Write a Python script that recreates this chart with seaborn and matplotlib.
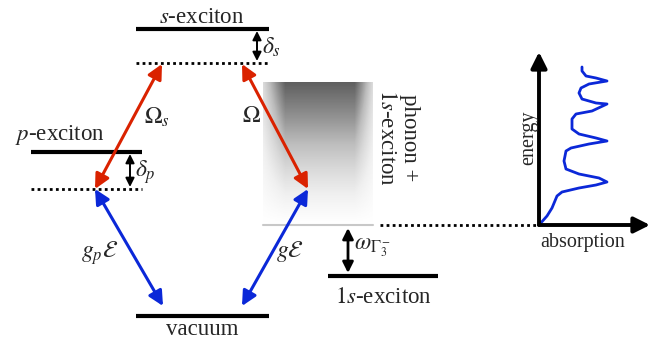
"""Level scheme for p/s excitons with a phonon band, plus the resulting absorption sketch."""

import matplotlib
matplotlib.use("Agg")

import matplotlib.pyplot as plt
import numpy as np
import seaborn as sns

# level scheme (pixel frame of the picture, y grows downwards)
level_names = ["$s$-exciton", "$p$-exciton", "vacuum", "$1s$-exciton"]
level_x0 = [136, 31, 136, 328]
level_x1 = [269, 142, 269, 438]
level_y = [29, 152, 316, 276]

# detuned (dotted) levels
dotted_x0 = [136, 31, 380]
dotted_x1 = [269, 142, 539]
dotted_y = [63, 189, 225]

# couplings: (start x, start y, end x, end y, label)
coupling_labels = [r"$\Omega_s$", r"$\Omega$", r"$g_p\mathcal{E}$", r"$g\mathcal{E}$"]
coupling_from = [(95, 189), (242, 64), (95, 189), (308, 189)]
coupling_to = [(162, 64), (308, 189), (163, 306), (242, 306)]
coupling_color = ["red", "red", "blue", "blue"]

# absorption spectrum (px from the axis origin)
absorption = [0, 8, 13, 18, 23, 40, 57, 68, 60, 40, 27, 25, 27, 32, 50, 68, 57, 40,
              33, 33, 37, 53, 68, 57, 43, 40, 42, 50, 68, 57, 47, 43, 43]
energy = [0, 9, 17, 29, 33, 37, 40, 43, 47, 51, 56, 64, 74, 77, 81, 84, 87, 91,
          96, 106, 111, 114, 121, 122, 126, 132, 137, 141, 144, 147, 149, 154, 158]

RED = "#da2200"
BLUE = "#0b28d8"
COLORS = {"red": RED, "blue": BLUE}

sns.set_style("white")
plt.rcParams["font.family"] = ["Liberation Serif", "DejaVu Serif"]
plt.rcParams["mathtext.fontset"] = "stix"

fig = plt.figure(figsize=(6.59, 3.41), dpi=100)
ax = fig.add_axes([0, 0, 1, 1])
ax.set_xlim(0, 659)
ax.set_ylim(341, 0)
ax.axis("off")

# phonon + 1s-exciton band, a grey shade fading downwards
ny, nx = 120, 110
fade = np.linspace(0.72, 0.0, ny) ** 1.1
edge = np.clip(np.minimum(np.linspace(0, 110, nx) / 22, (110 - np.linspace(0, 110, nx)) / 18), 0, 1)
shade = np.outer(fade, 0.35 + 0.65 * edge)
ax.imshow(shade, cmap="Greys", vmin=0, vmax=1, extent=[263, 373, 225, 82],
          aspect="auto", interpolation="bilinear", zorder=0)
ax.plot([263, 373], [225, 225], color="#c8c8c8", lw=1.5, zorder=1)

for x0, x1, y in zip(level_x0, level_x1, level_y):
    ax.plot([x0, x1], [y, y], color="black", lw=3, solid_capstyle="butt")
for x0, x1, y in zip(dotted_x0, dotted_x1, dotted_y):
    ax.plot([x0, x1], [y, y], color="black", lw=2, ls=(0, (1, 1.2)))

ax.text(202, 23, level_names[0], ha="center", va="baseline", fontsize=16.5)
ax.text(60, 140, level_names[1], ha="center", va="baseline", fontsize=16.5)
ax.text(202, 335, level_names[2], ha="center", va="baseline", fontsize=16.5)
ax.text(383, 303, level_names[3], ha="center", va="baseline", fontsize=16.5)
ax.text(398, 89, "phonon +\n$1s$-exciton", rotation=-90, ha="center", va="top",
        fontsize=16.5, linespacing=1.12, multialignment="center")

# coupling arrows
for (xs, ys), (xe, ye), c in zip(coupling_from, coupling_to, coupling_color):
    ax.annotate("", xy=(xe, ye), xytext=(xs, ys),
                arrowprops=dict(arrowstyle="<|-|>", color=COLORS[c], lw=2.2,
                                mutation_scale=22, shrinkA=0, shrinkB=0))
label_pos = [(157, 117), (251, 117), (100, 253), (290, 252)]
for (x, y), lab in zip(label_pos, coupling_labels):
    ax.text(x, y, lab, ha="center", va="center", fontsize=17)

# detunings
small = dict(arrowstyle="<|-|>", color="black", lw=1.4, mutation_scale=13, shrinkA=0, shrinkB=0)
ax.annotate("", xy=(257, 31), xytext=(257, 61), arrowprops=small)
ax.text(262, 47, r"$\delta_s$", ha="left", va="center", fontsize=17)
ax.annotate("", xy=(130, 154), xytext=(130, 187), arrowprops=small)
ax.text(135, 172, r"$\delta_p$", ha="left", va="center", fontsize=17)
big = dict(arrowstyle="<|-|>", color="black", lw=2, mutation_scale=16, shrinkA=0, shrinkB=0)
ax.annotate("", xy=(348, 228), xytext=(348, 273), arrowprops=big)
ax.text(354, 248, r"$\omega_{\Gamma_3^-}$", ha="left", va="center", fontsize=17)

# absorption sketch
ax2 = fig.add_axes([539 / 659, (341 - 225) / 341, 111 / 659, 173 / 341])
ax2.set_xlim(0, 111)
ax2.set_ylim(0, 173)
ax2.axis("off")
axis_arrow = dict(arrowstyle="-|>", color="black", lw=2.8, mutation_scale=24, shrinkA=0, shrinkB=0)
ax2.annotate("", xy=(111, 0), xytext=(0, 0), arrowprops=axis_arrow, annotation_clip=False)
ax2.annotate("", xy=(0, 173), xytext=(0, 0), arrowprops=axis_arrow, annotation_clip=False)
sns.lineplot(x=absorption, y=energy, sort=False, estimator=None, color=BLUE, lw=2, ax=ax2)
ax2.text(44, -8, "absorption", ha="center", va="top", fontsize=14.5, clip_on=False)
ax2.text(-10, 87, "energy", ha="center", va="center", rotation=90, fontsize=14.5, clip_on=False)

fig.savefig("out.png", dpi=100)
